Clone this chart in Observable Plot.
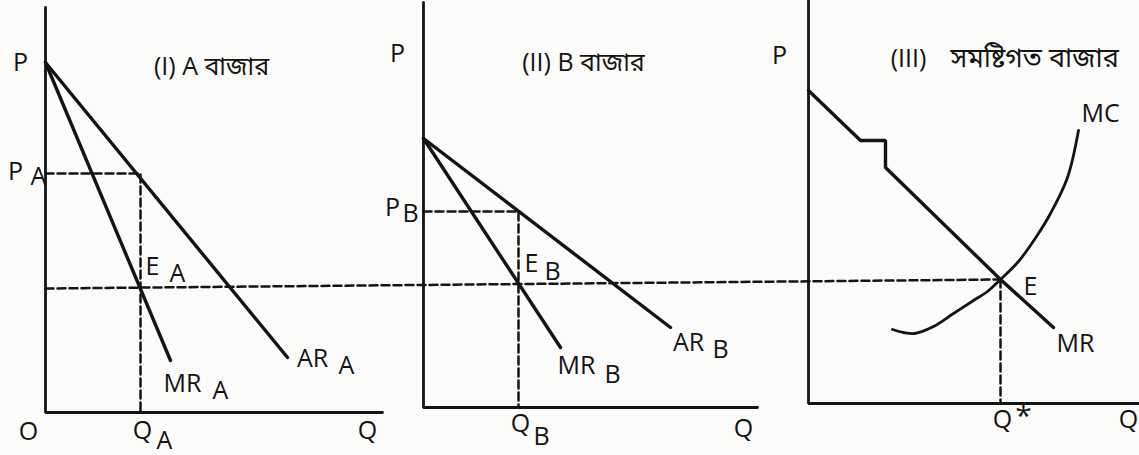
<!DOCTYPE html>
<html><head><meta charset="utf-8">
<script src="https://cdn.jsdelivr.net/npm/d3@7"></script>
<script src="https://cdn.jsdelivr.net/npm/@observablehq/plot@0.6"></script>
<style>
  html,body{margin:0;padding:0;background:#fbfbf9;}
  #chart svg{display:block;}
</style>
</head><body>
<div id="chart"></div>
<script>
// ---------- data (each panel: q = quantity from origin, p = price from origin) ----------
const panels = ["I", "II", "III"];
const axisTop = [405, 405, 410];          // length of the P axes
const axisRight = [337, 334, 340];        // length of the Q axes
const mcLevel = 124;                      // common MC price (horizontal dashed line)

// Market A
const arA = [{q: 0, p: 350}, {q: 242, p: 55}];
const mrA = [{q: 0, p: 350}, {q: 125, p: 52}];
const priceA = 239, qtyA = 95;

// Market B
const arB = [{q: 0, p: 269}, {q: 247, p: 80}];
const mrB = [{q: 0, p: 269}, {q: 137, p: 60}];
const priceB = 196, qtyB = 95;

// Aggregate market
const mrTotal = [{q: 0, p: 313}, {q: 52, p: 263}, {q: 77, p: 263}, {q: 77, p: 236}, {q: 192, p: 124}, {q: 245, p: 76}];
const mcCurve = [{q: 84, p: 74}, {q: 95, p: 71}, {q: 106, p: 70}, {q: 125, p: 77}, {q: 145, p: 90}, {q: 165, p: 103},
                 {q: 179, p: 112}, {q: 192, p: 124}, {q: 210, p: 142}, {q: 228, p: 167}, {q: 242, p: 190},
                 {q: 259, p: 226}, {q: 270, p: 273}];
const qtyStar = 192;

// text labels
const titles = ["(I) A বাজার", "(II) B বাজার", "(III)", "সমষ্টিগত বাজার"];
const curveNames = ["AR", "MR", "MC", "E"];

// ---------- layout ----------
const W = 1139, H = 455;
const OX = {I: 45, II: 423, III: 808};      // panel origins (horizontal)
const LIFT = {I: 43, II: 48, III: 52};      // panel origins (vertical, from bottom)
const X = d => OX[d.panel] + d.q;
const Y = d => LIFT[d.panel] + d.p;
const tag = (panel, pts) => pts.map(d => ({panel, ...d}));

const axes = panels.map((panel, i) => tag(panel, [{q: 0, p: axisTop[i]}, {q: 0, p: 0}, {q: axisRight[i], p: 0}]));

const solid = [
  tag("I", arA), tag("I", mrA),
  tag("II", arB), tag("II", mrB),
  tag("III", mrTotal)
];

const dashed = [
  tag("I", [{q: 0, p: priceA}, {q: qtyA, p: priceA}, {q: qtyA, p: 0}]),
  tag("II", [{q: 0, p: priceB}, {q: qtyB, p: priceB}, {q: qtyB, p: 0}]),
  [{panel: "I", q: 0, p: mcLevel}, {panel: "III", q: qtyStar, p: mcLevel}],
  tag("III", [{q: qtyStar, p: mcLevel}, {q: qtyStar, p: 0}])
];

const FONT = "'Open Sans', 'Noto Sans Bengali', 'Noto Sans', sans-serif";
const labels = [
  // panel I
  {panel: "I", q: -25, p: 350, t: "P"},
  {panel: "I", q: 166, p: 346, t: titles[0]},
  {panel: "I", q: -30, p: 241, t: "P"}, {panel: "I", q: -7, p: 236, t: "A"},
  {panel: "I", q: 107, p: 146, t: curveNames[3]}, {panel: "I", q: 132, p: 139, t: "A"},
  {panel: "I", q: 137, p: 29, t: curveNames[1]}, {panel: "I", q: 175, p: 22, t: "A"},
  {panel: "I", q: 267, p: 54, t: curveNames[0]}, {panel: "I", q: 301, p: 47, t: "A"},
  {panel: "I", q: -17, p: -19, t: "O"},
  {panel: "I", q: 97, p: -18, t: "Q"}, {panel: "I", q: 119, p: -28, t: "A"},
  {panel: "I", q: 322, p: -18, t: "Q"},
  // panel II
  {panel: "II", q: -26, p: 354, t: "P"},
  {panel: "II", q: 160, p: 345, t: titles[1]},
  {panel: "II", q: -31, p: 200, t: "P"}, {panel: "II", q: -13, p: 194, t: "B"},
  {panel: "II", q: 108, p: 144, t: curveNames[3]}, {panel: "II", q: 129, p: 136, t: "B"},
  {panel: "II", q: 153, p: 42, t: curveNames[1]}, {panel: "II", q: 189, p: 33, t: "B"},
  {panel: "II", q: 265, p: 65, t: curveNames[0]}, {panel: "II", q: 297, p: 58, t: "B"},
  {panel: "II", q: 97, p: -16, t: "Q"}, {panel: "II", q: 118, p: -29, t: "B"},
  {panel: "II", q: 320, p: -21, t: "Q"},
  // panel III
  {panel: "III", q: -29, p: 348, t: "P"},
  {panel: "III", q: 100, p: 345, t: titles[2]},
  {panel: "III", q: 292, p: 290, t: curveNames[2]},
  {panel: "III", q: 222, p: 117, t: curveNames[3]},
  {panel: "III", q: 267, p: 60, t: curveNames[1]},
  {panel: "III", q: 194, p: -16, t: "Q"},
  {panel: "III", q: 320, p: -16, t: "Q"}
];
const wideTitle = [{panel: "III", q: 142, p: 345, t: titles[3]}];
const star = [{panel: "III", q: 215, p: -13, t: "*"}];

const ink = "#141414";
const plot = Plot.plot({
  width: W, height: H,
  margin: 0,
  style: {background: "transparent"},
  x: {domain: [0, W], range: [0, W], axis: null},
  y: {domain: [0, H], range: [H, 0], axis: null},
  marks: [
    ...axes.map(a => Plot.line(a, {x: X, y: Y, stroke: ink, strokeWidth: 2.8, strokeLinejoin: "miter"})),
    ...solid.map(s => Plot.line(s, {x: X, y: Y, stroke: ink, strokeWidth: 3.4, strokeLinejoin: "miter"})),
    Plot.line(tag("III", mcCurve), {x: X, y: Y, stroke: ink, strokeWidth: 2.8, curve: "catmull-rom"}),
    ...dashed.map(s => Plot.line(s, {x: X, y: Y, stroke: ink, strokeWidth: 2.5, strokeDasharray: "8,4"})),
    Plot.text(labels, {x: X, y: Y, text: "t", fill: ink, fontSize: 25, fontFamily: FONT}),
    Plot.text(wideTitle, {x: X, y: Y, text: "t", fill: ink, fontSize: 27, fontFamily: FONT, textAnchor: "start"}),
    Plot.text(star, {x: X, y: Y, text: "t", fill: ink, fontSize: 30, fontFamily: FONT})
  ]
});
document.getElementById("chart").appendChild(plot);
</script>
</body></html>
